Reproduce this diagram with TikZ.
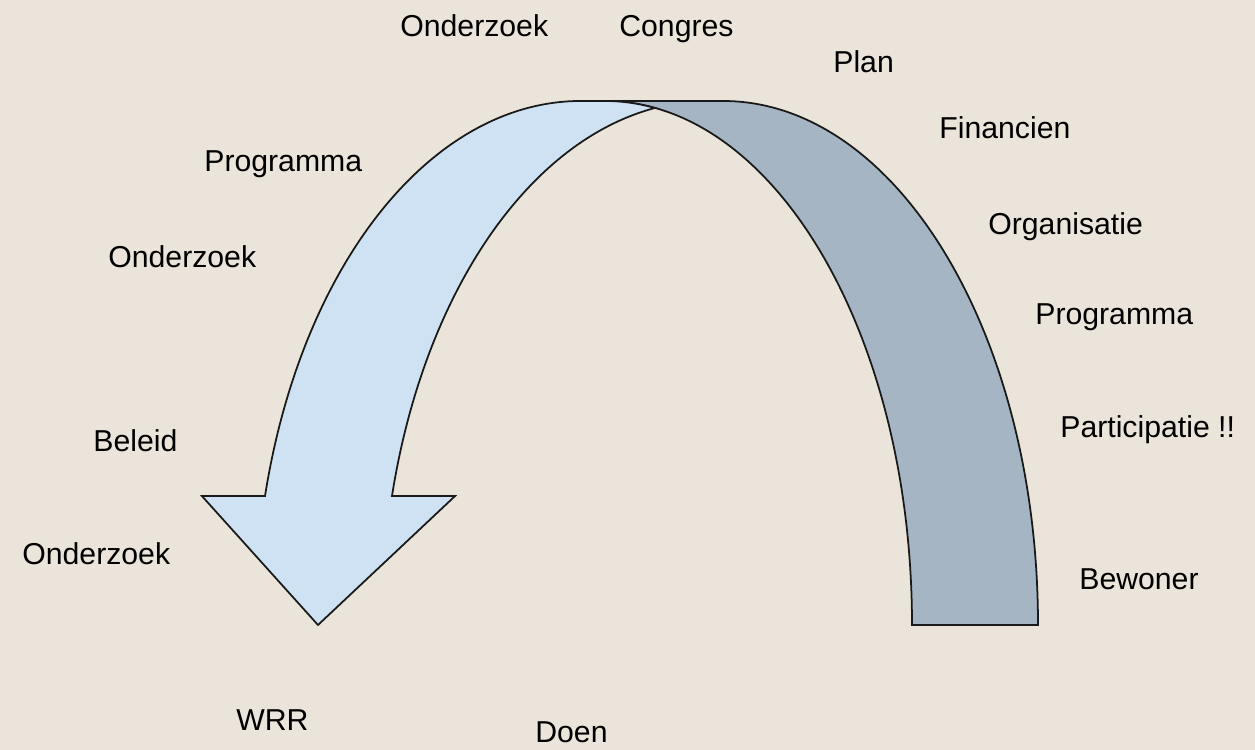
\documentclass[tikz,border=0pt]{standalone}
\usepackage{fontspec}
\setmainfont{Liberation Sans}
\definecolor{paper}{RGB}{234,228,218}
\definecolor{frontblue}{RGB}{207,226,243}
\definecolor{backgrey}{RGB}{165,181,195}

\begin{document}
\begin{tikzpicture}[x=0.02cm, y=0.02cm, every node/.style={font=\fontsize{17.2}{20}\selectfont},
    word/.style={anchor=base west, inner sep=0pt, text=black},
    band/.style={draw=black!90, line width=1pt, line join=miter}]
    \fill[paper] (0,0) rectangle (1255,750);
    \useasboundingbox (0,0) rectangle (1255,750);

    \coordinate (T) at (605,649);
    \coordinate (R) at (723,649);
    \coordinate (L) at (265,253.9);
    \coordinate (Tip) at (318,125);

    % back of the arch
    \draw[band, fill=backgrey] (T) -- (R)
        arc[start angle=90, end angle=0, x radius=315, y radius=524]
        -- (912,125)
        arc[start angle=0, end angle=90, x radius=307, y radius=524] -- cycle;

    % front of the arch with the head
    \draw[band, fill=frontblue] (L)
        arc[start angle=165.76, end angle=90, x radius=326, y radius=524]
        -- (T)
        arc[start angle=90, end angle=80.64, x radius=307, y radius=524]
        arc[start angle=99.36, end angle=165.76, x radius=326, y radius=524]
        -- (455,253.9) -- (Tip) -- (202,253.9) -- cycle;

    % words round the arch
    \node[word] (onderzoekA) at (400,713) {Onderzoek};
    \node[word] (congres) at (619,713) {Congres};
    \node[word] (plan) at (833,677) {Plan};
    \node[word] (financien) at (939,611) {Financien};
    \node[word] (programmaA) at (204,578) {Programma};
    \node[word] (organisatie) at (988,515) {Organisatie};
    \node[word] (onderzoekB) at (108,482) {Onderzoek};
    \node[word] (programmaB) at (1035,425) {Programma};
    \node[word] (beleid) at (93,298) {Beleid};
    \node[word] (participatie) at (1060,312) {Participatie !!};
    \node[word] (onderzoekC) at (22,185) {Onderzoek};
    \node[word] (bewoner) at (1079,160) {Bewoner};
    \node[word] (wrr) at (236,19) {WRR};
    \node[word] (doen) at (535,7) {Doen};
\end{tikzpicture}
\end{document}
